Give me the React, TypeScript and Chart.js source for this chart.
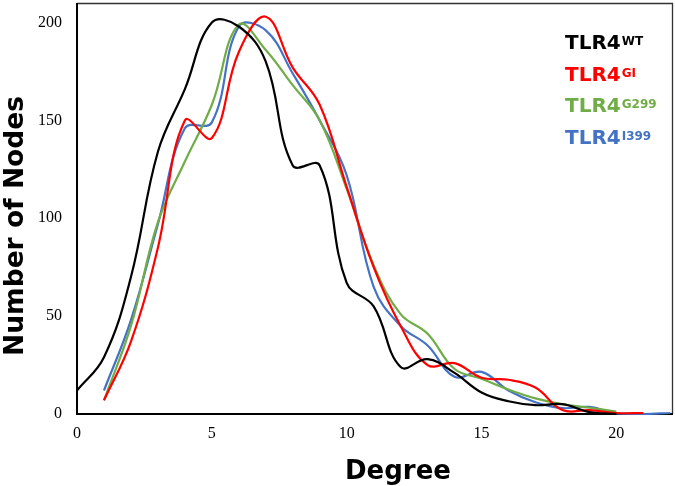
import React, { useEffect, useRef } from "react";
import { Chart, registerables } from "chart.js";

Chart.register(...registerables);

// ---- data ----
const wtDegrees = [0, 1, 2, 3, 4, 5, 6, 7, 8, 9, 10, 11, 12, 13, 14, 15, 16, 17, 18, 19, 20];
const wtNodes = [12, 29, 70, 134, 166, 200, 198, 180, 127, 127, 67, 55, 24, 28, 21, 11, 6.5, 4.5, 5, 1, 0];

const giDegrees = [1, 2, 3, 4, 5, 6, 7, 8, 9, 10, 11, 12, 13, 14, 15, 16, 17, 18, 19, 20, 21];
const giNodes = [7, 37, 85, 150, 141, 185, 203, 177, 158, 116, 75, 45, 25, 26, 18.5, 17.5, 13.5, 2, 2, 0.5, 0.5];

const g299Degrees = [1, 2, 3, 4, 5, 6, 7, 8, 9, 10, 11, 12, 13, 14, 15, 16, 17, 18, 19, 20];
const g299Nodes = [7, 45, 98, 129, 158, 199, 186, 168, 150, 115, 76, 51, 41, 23, 18, 12.5, 8, 5, 3.2, 1.2];

const i399Degrees = [1, 2, 3, 4, 5, 6, 7, 8, 9, 10, 11, 12, 13, 14, 15, 16, 17, 18, 19, 20, 21, 22];
const i399Nodes = [12, 48, 97, 146, 149, 198, 196, 174, 150, 122, 65, 45, 35, 19, 21.5, 12, 6, 3, 3.6, 0.3, 0, 0.5];

const xTickValues = [0, 5, 10, 15, 20];
const yTickValues = [0, 50, 100, 150, 200];

const seriesBase = ["TLR4", "TLR4", "TLR4", "TLR4"];
const seriesSup = ["WT", "GI", "G299", "I399"];
const seriesColors = ["#000000", "#ff0000", "#70ad47", "#4472c4"];

const xTitle = "Degree";
const yTitle = "Number of Nodes";

const toPoints = (xs: number[], ys: number[]) => xs.map((x, i) => ({ x, y: ys[i] }));

const decorPlugin = {
  id: "decor",
  beforeDatasetsDraw(chart: any) {
    const { ctx, chartArea: a } = chart;
    ctx.save();
    ctx.strokeStyle = "#333333";
    ctx.lineWidth = 1.3;
    ctx.beginPath();
    ctx.moveTo(a.left, a.top + 0.5);
    ctx.lineTo(a.right - 0.5, a.top + 0.5);
    ctx.lineTo(a.right - 0.5, a.bottom);
    ctx.stroke();
    ctx.strokeStyle = "#000000";
    ctx.lineWidth = 2;
    ctx.beginPath();
    ctx.moveTo(a.left, a.top);
    ctx.lineTo(a.left, a.bottom);
    ctx.lineTo(a.right, a.bottom);
    ctx.stroke();
    ctx.restore();
  },
  afterDraw(chart: any) {
    const { ctx } = chart;
    ctx.save();
    // axis titles
    ctx.fillStyle = "#000000";
    ctx.textAlign = "center";
    ctx.textBaseline = "alphabetic";
    ctx.font = "bold 26px 'DejaVu Sans'";
    ctx.fillText(xTitle, 398, 479);
    ctx.save();
    ctx.translate(23, 226);
    ctx.rotate(-Math.PI / 2);
    ctx.font = "bold 26.5px 'DejaVu Sans'";
    ctx.fillText(yTitle, 0, 0);
    ctx.restore();

    // legend with superscripts
    const baseY = [49, 81, 112, 144];
    ctx.textAlign = "left";
    seriesBase.forEach((label, i) => {
      ctx.fillStyle = seriesColors[i];
      ctx.font = "bold 20px 'DejaVu Sans'";
      ctx.fillText(label, 565, baseY[i]);
      const w = ctx.measureText(label).width;
      ctx.font = "bold 12px 'DejaVu Sans'";
      ctx.fillText(seriesSup[i], 565 + w + 1, baseY[i] - 4);
    });
    ctx.restore();
  },
};

export default function App() {
  const canvasRef = useRef<HTMLCanvasElement | null>(null);

  useEffect(() => {
    if (!canvasRef.current) return;
    const chart = new Chart(canvasRef.current, {
      type: "line",
      data: {
        datasets: [
          { label: seriesBase[0] + seriesSup[0], data: toPoints(wtDegrees, wtNodes), borderColor: seriesColors[0] },
          { label: seriesBase[1] + seriesSup[1], data: toPoints(giDegrees, giNodes), borderColor: seriesColors[1] },
          { label: seriesBase[2] + seriesSup[2], data: toPoints(g299Degrees, g299Nodes), borderColor: seriesColors[2] },
          { label: seriesBase[3] + seriesSup[3], data: toPoints(i399Degrees, i399Nodes), borderColor: seriesColors[3] },
        ],
      },
      options: {
        responsive: false,
        animation: false,
        layout: { padding: { top: 3, right: 2, left: 0, bottom: 0 } },
        elements: {
          line: { borderWidth: 2.2, tension: 0.4, fill: false },
          point: { radius: 0, hoverRadius: 0 },
        },
        datasets: { line: { clip: false } } as any,
        plugins: { legend: { display: false }, tooltip: { enabled: false } },
        scales: {
          x: {
            type: "linear",
            min: 0,
            max: 22.1,
            grid: { display: false, drawTicks: false },
            border: { display: false },
            afterBuildTicks: (scale: any) => {
              scale.ticks = xTickValues.map((v) => ({ value: v }));
            },
            afterFit: (scale: any) => {
              scale.height = 72;
              scale.paddingLeft = 0;
              scale.paddingRight = 0;
            },
            ticks: {
              padding: 10,
              color: "#000000",
              maxRotation: 0,
              font: { family: "'Liberation Serif'", size: 16 },
            },
          },
          y: {
            type: "linear",
            min: 0,
            max: 210,
            grid: { display: false, drawTicks: false },
            border: { display: false },
            afterBuildTicks: (scale: any) => {
              scale.ticks = yTickValues.map((v) => ({ value: v }));
            },
            afterFit: (scale: any) => {
              scale.width = 77;
              scale.paddingTop = 0;
              scale.paddingBottom = 0;
            },
            ticks: {
              padding: 15,
              color: "#000000",
              font: { family: "'Liberation Serif'", size: 16 },
            },
          },
        },
      },
      plugins: [decorPlugin],
    });
    return () => chart.destroy();
  }, []);

  return (
    <div style={{ position: "absolute", left: 0, top: 0, width: 675, height: 486, background: "#ffffff" }}>
      <canvas ref={canvasRef} width={675} height={486} style={{ display: "block" }} />
    </div>
  );
}
